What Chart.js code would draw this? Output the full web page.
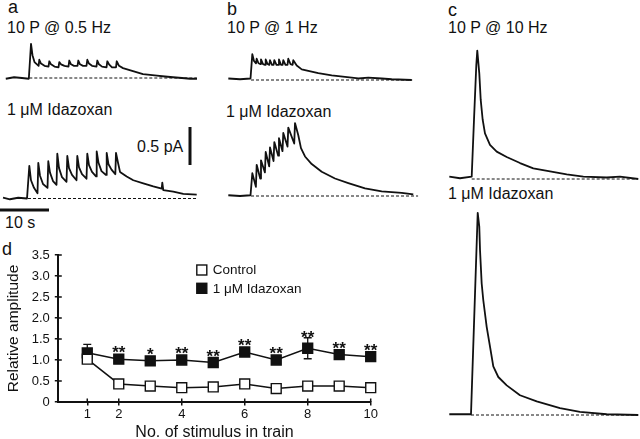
<!DOCTYPE html>
<html>
<head>
<meta charset="utf-8">
<script src="https://cdn.jsdelivr.net/npm/chart.js"></script>
<style>
  body { margin: 0; background: #fff; }
  #fig { position: relative; width: 640px; height: 439px; overflow: hidden; font-family: "Liberation Sans", Arial, sans-serif; color: #111; }
  #fig canvas { position: absolute; }
  .t { position: absolute; white-space: nowrap; font-size: 16px; line-height: 16px; }
  .big { font-size: 18px; line-height: 18px; }
</style>
</head>
<body>
<div id="fig">
  <div class="t big" style="left:8px;top:-2px">a</div>
  <div class="t big" style="left:227px;top:0px">b</div>
  <div class="t big" style="left:448px;top:1px">c</div>
  <div class="t big" style="left:2px;top:240px">d</div>
  <div class="t" style="left:7px;top:19.5px">10 P @ 0.5 Hz</div>
  <div class="t" style="left:7px;top:101.5px">1 μM Idazoxan</div>
  <div class="t" style="left:227px;top:19.5px">10 P @ 1 Hz</div>
  <div class="t" style="left:226px;top:103.5px">1 μM Idazoxan</div>
  <div class="t" style="left:448px;top:20px">10 P @ 10 Hz</div>
  <div class="t" style="left:448px;top:185.5px">1 μM Idazoxan</div>
  <div class="t" style="left:137px;top:138.5px">0.5 pA</div>
  <div class="t" style="left:5px;top:214.5px">10 s</div>
</div>
<script>
// ---- traces: time (s, 0 = first stimulus) and current (pA above baseline) ----
const aTopTime = [-4.8, -3.1, -1.5, -0.1, 0.35, 0.65, 1.06, 1.9, 2.04, 2.39, 3.1, 3.92, 4.08, 4.43, 5.14, 5.96, 6.12, 6.47, 7.18, 8.0, 8.16, 8.51, 9.12, 9.84, 10.0, 10.35, 10.96, 11.67, 11.84, 12.18, 12.8, 13.71, 13.88, 14.22, 14.84, 15.76, 15.92, 16.27, 16.88, 17.69, 17.84, 18.31, 19.12, 20.14, 21.16, 22.18, 23.2, 24.63, 26.06, 27.69, 29.33, 31.16, 32.8, 34.22];
const aTopAmp  = [-0.01, 0.01, 0.0, -0.01, 0.45, 0.30, 0.21, 0.16, 0.24, 0.19, 0.16, 0.15, 0.22, 0.18, 0.15, 0.14, 0.21, 0.18, 0.16, 0.15, 0.23, 0.18, 0.16, 0.16, 0.23, 0.18, 0.16, 0.16, 0.24, 0.19, 0.16, 0.15, 0.23, 0.18, 0.15, 0.14, 0.22, 0.18, 0.14, 0.14, 0.22, 0.16, 0.13, 0.11, 0.09, 0.07, 0.05, 0.04, 0.03, 0.02, 0.01, 0.0, -0.01, -0.01];

const aBotTime = [-5.1, -3.7, -2.0, -0.2, 0, 0.27, 0.61, 1.22, 1.94, 2.1, 2.45, 3.06, 3.98, 4.14, 4.49, 5.1, 5.82, 5.98, 6.33, 6.94, 7.86, 8.02, 8.37, 8.98, 9.9, 10.06, 10.41, 11.02, 11.94, 12.1, 12.45, 13.06, 13.88, 14.02, 14.39, 15.0, 15.92, 16.06, 16.43, 17.04, 17.82, 17.96, 18.37, 18.78, 20.14, 21.49, 23.53, 25.57, 27.29, 27.41, 27.61, 29.65, 31.69, 34.43];
const aBotAmp  = [0.01, -0.01, 0.01, 0, 0, 0.43, 0.24, 0.14, 0.07, 0.47, 0.30, 0.19, 0.14, 0.49, 0.34, 0.23, 0.18, 0.59, 0.40, 0.28, 0.22, 0.56, 0.40, 0.31, 0.24, 0.56, 0.41, 0.32, 0.26, 0.59, 0.44, 0.35, 0.29, 0.62, 0.47, 0.36, 0.31, 0.60, 0.45, 0.38, 0.32, 0.60, 0.47, 0.35, 0.29, 0.24, 0.20, 0.16, 0.13, 0.21, 0.11, 0.09, 0.06, 0.05];

const bTopTime = [-4.63, -2.24, -0.1, 0.27, 0.61, 1.02, 1.16, 1.53, 1.94, 2.04, 2.45, 2.86, 3.0, 3.37, 3.73, 3.88, 4.29, 4.61, 4.76, 5.2, 5.57, 5.71, 6.12, 6.45, 6.59, 7.04, 7.45, 7.61, 8.06, 8.49, 8.63, 9.33, 10.35, 11.69, 13.73, 16.47, 19.18, 21.9, 23.94, 26.67, 28.71, 32.8];
const bTopAmp  = [0.02, 0.01, 0.02, 0.34, 0.25, 0.22, 0.28, 0.22, 0.21, 0.27, 0.21, 0.20, 0.27, 0.21, 0.20, 0.26, 0.20, 0.20, 0.26, 0.20, 0.20, 0.27, 0.20, 0.20, 0.26, 0.20, 0.20, 0.28, 0.21, 0.20, 0.26, 0.19, 0.14, 0.12, 0.09, 0.06, 0.04, 0.02, 0.03, 0.02, 0.01, 0];

const bBotTime = [-4.63, -2.24, -0.1, 0.27, 1.0, 1.16, 1.88, 2.04, 2.84, 3.0, 3.71, 3.88, 4.6, 4.76, 5.55, 5.71, 6.43, 6.59, 7.45, 7.61, 8.82, 8.98, 9.65, 10.2, 11.02, 12.39, 14.43, 17.14, 19.86, 23.27, 26.67, 30.76, 33.12];
const bBotAmp  = [0.01, 0, 0.01, 0.30, 0.12, 0.41, 0.23, 0.47, 0.31, 0.58, 0.39, 0.64, 0.46, 0.71, 0.53, 0.76, 0.59, 0.83, 0.65, 0.90, 0.69, 0.96, 0.80, 0.63, 0.52, 0.42, 0.32, 0.23, 0.17, 0.10, 0.06, 0.04, 0.02];

const cTopTime = [-4.57, -2.39, 0, 0.47, 0.94, 1.14, 1.55, 1.84, 2.24, 2.71, 3.73, 5.1, 7.14, 9.86, 12.57, 15.98, 19.39, 22.78, 27.55, 30.27, 34.0];
const cTopAmp  = [0.03, 0.01, 0.03, 0.78, 1.5, 1.69, 1.39, 1.04, 0.78, 0.60, 0.45, 0.36, 0.29, 0.21, 0.14, 0.10, 0.06, 0.03, 0.02, 0.03, 0.0];

const cBotTime = [-4.43, -2.24, 0, 1.37, 1.69, 1.84, 2.18, 2.51, 3.2, 3.88, 4.55, 5.57, 7.29, 10.0, 13.41, 18.16, 22.24, 27.69, 34.14];
const cBotAmp  = [0.01, 0.01, 0.01, 2.66, 2.48, 2.17, 1.73, 1.51, 1.16, 0.90, 0.64, 0.50, 0.39, 0.26, 0.18, 0.09, 0.04, 0.01, 0];

// dashed zero-current lines (time range, s)
const aTopBase = [0, 34.2], aBotBase = [0, 34.4];
const bTopBase = [0, 32.9], bBotBase = [0, 34.1];
const cTopBase = [0, 33.7], cBotBase = [0, 34.1];

// scale bars
const SCALE_BAR_S = 10;
const SCALE_BAR_PA = 0.5;

// ---- panel d ----
const stimulusNo   = [1, 2, 3, 4, 5, 6, 7, 8, 9, 10];
const controlAmp   = [1.02, 0.43, 0.38, 0.34, 0.36, 0.43, 0.32, 0.38, 0.38, 0.34];
const controlSem   = [0.04, 0.04, 0.03, 0.03, 0.03, 0.04, 0.03, 0.03, 0.04, 0.03];
const idazoxanAmp  = [1.17, 1.02, 0.98, 1.0, 0.94, 1.19, 1.0, 1.28, 1.13, 1.08];
const idazoxanSem  = [0.20, 0.06, 0.06, 0.05, 0.05, 0.06, 0.05, 0.25, 0.06, 0.06];
const significance = ['', '**', '*', '**', '**', '**', '**', '**', '**', '**'];
const xTickValues  = [1, 2, 4, 6, 8, 10];
const yTickStep    = 0.5;

const INK = '#111';
const FONT = '"Liberation Sans", Arial, sans-serif';
const PX_PER_S = 4.9;    // 10 s bar = 49 px
const PX_PER_PA = 76;    // 0.5 pA bar = 38 px

Chart.defaults.font.family = FONT;
Chart.defaults.color = INK;

function toPoints(ts, vs) {
    return ts.map((t, i) => ({ x: t, y: vs[i] }));
}

function addCanvas(box) {
    const canvas = document.createElement('canvas');
    canvas.width = box.w;
    canvas.height = box.h;
    canvas.style.left = box.left + 'px';
    canvas.style.top = box.top + 'px';
    document.getElementById('fig').appendChild(canvas);
    return canvas;
}

// page pixel -> trace units, for a given panel layout
function pxToT(px, stimX) { return (px - stimX) / PX_PER_S; }
function pxToA(py, baseY) { return (baseY - py) / PX_PER_PA; }

function traceChart(box, stimX, baseY, times, amps, baseRange, extra = []) {
    const canvas = addCanvas(box);
    const datasets = [
        { data: toPoints(times, amps), borderColor: INK, borderWidth: 1.8, borderJoinStyle: 'round' },
        { data: baseRange.map(t => ({ x: t, y: 0 })), borderColor: INK, borderWidth: 1, borderDash: [3, 2] },
        ...extra
    ];
    return new Chart(canvas, {
        type: 'line',
        data: { datasets },
        options: {
            responsive: false,
            animation: false,
            devicePixelRatio: 1,
            events: [],
            layout: { padding: 0 },
            elements: { point: { radius: 0 }, line: { tension: 0 } },
            plugins: { legend: { display: false }, tooltip: { enabled: false } },
            scales: {
                x: { type: 'linear', display: false, min: pxToT(box.left, stimX), max: pxToT(box.left + box.w, stimX) },
                y: { type: 'linear', display: false, min: pxToA(box.top + box.h, baseY), max: pxToA(box.top, baseY) }
            }
        }
    });
}

// scale bars live in the lower trace of panel a
const aBotStim = 28, aBotBaseY = 198.5;
const hBarT = pxToT(0, aBotStim), hBarA = pxToA(210, aBotBaseY);
const vBarT = pxToT(190, aBotStim), vBarA = pxToA(165, aBotBaseY);
const scaleBars = [
    { data: [{ x: hBarT, y: hBarA }, { x: hBarT + SCALE_BAR_S, y: hBarA }], borderColor: INK, borderWidth: 3 },
    { data: [{ x: vBarT, y: vBarA }, { x: vBarT, y: vBarA + SCALE_BAR_PA }], borderColor: INK, borderWidth: 3 }
];

traceChart({ left: 0, top: 35, w: 200, h: 55 }, 29.3, 78, aTopTime, aTopAmp, aTopBase);
traceChart({ left: 0, top: 120, w: 200, h: 100 }, aBotStim, aBotBaseY, aBotTime, aBotAmp, aBotBase, scaleBars);
traceChart({ left: 220, top: 40, w: 200, h: 50 }, 251, 80, bTopTime, bTopAmp, bTopBase);
traceChart({ left: 220, top: 115, w: 200, h: 90 }, 251, 196, bBotTime, bBotAmp, bBotBase);
traceChart({ left: 440, top: 40, w: 200, h: 150 }, 471.7, 179, cTopTime, cTopAmp, cTopBase);
traceChart({ left: 440, top: 205, w: 200, h: 220 }, 471, 415, cBotTime, cBotAmp, cBotBase);

// ---- panel d plugins ----
const errorBars = {
    id: 'errorBars',
    beforeDatasetsDraw(chart) {
        const { ctx, scales: { x, y } } = chart;
        ctx.save();
        ctx.strokeStyle = INK;
        ctx.lineWidth = 1.3;
        chart.data.datasets.forEach(ds => {
            ds.data.forEach((p, i) => {
                const s = ds.sem[i];
                const px = x.getPixelForValue(p.x);
                const top = y.getPixelForValue(p.y + s);
                const bot = y.getPixelForValue(p.y - s);
                ctx.beginPath();
                ctx.moveTo(px, top); ctx.lineTo(px, bot);
                ctx.moveTo(px - 4, top); ctx.lineTo(px + 4, top);
                ctx.moveTo(px - 4, bot); ctx.lineTo(px + 4, bot);
                ctx.stroke();
            });
        });
        ctx.restore();
    }
};

const stars = {
    id: 'stars',
    afterDatasetsDraw(chart) {
        const { ctx, scales: { x, y } } = chart;
        ctx.save();
        ctx.font = 'bold 17px ' + FONT;
        ctx.textAlign = 'center';
        ctx.textBaseline = 'alphabetic';
        ctx.fillStyle = INK;
        significance.forEach((s, i) => {
            if (!s) return;
            const px = x.getPixelForValue(stimulusNo[i]);
            const cy = Math.min(y.getPixelForValue(idazoxanAmp[i]) - 11,
                                y.getPixelForValue(idazoxanAmp[i] + idazoxanSem[i]) - 5);
            ctx.fillText(s, px, cy + 10);
        });
        ctx.restore();
    }
};

const innerTicks = {
    id: 'innerTicks',
    afterDraw(chart) {
        const { ctx, chartArea, scales: { x, y } } = chart;
        ctx.save();
        ctx.strokeStyle = INK;
        ctx.lineWidth = 1.5;
        ctx.beginPath();
        y.ticks.forEach(t => {
            const py = y.getPixelForValue(t.value);
            ctx.moveTo(chartArea.left, py); ctx.lineTo(chartArea.left + 3.5, py);
        });
        x.ticks.forEach(t => {
            const px = x.getPixelForValue(t.value);
            ctx.moveTo(px, chartArea.bottom); ctx.lineTo(px, chartArea.bottom - 3.5);
        });
        ctx.stroke();
        ctx.restore();
    }
};

const boxLegend = {
    id: 'boxLegend',
    afterDraw(chart) {
        const { ctx, chartArea } = chart;
        ctx.save();
        chart.data.datasets.forEach((ds, i) => {
            const x0 = chartArea.left + 138.5;
            const y0 = chartArea.top + 10 + i * 18.3;
            ctx.fillStyle = ds.pointBackgroundColor;
            ctx.fillRect(x0, y0, 10, 10);
            ctx.strokeStyle = INK;
            ctx.lineWidth = 1.4;
            ctx.strokeRect(x0, y0, 10, 10);
            ctx.fillStyle = INK;
            ctx.font = '13.5px ' + FONT;
            ctx.textBaseline = 'middle';
            ctx.fillText(ds.label, x0 + 16, y0 + 5.5);
        });
        ctx.restore();
    }
};

const dCanvas = addCanvas({ left: 0, top: 240, w: 390, h: 199 });
new Chart(dCanvas, {
    type: 'line',
    data: {
        datasets: [
            {
                label: 'Control',
                data: toPoints(stimulusNo, controlAmp),
                sem: controlSem,
                borderColor: INK, borderWidth: 1.5,
                pointStyle: 'rect', pointRadius: 7,
                pointBackgroundColor: '#fff', pointBorderColor: INK, pointBorderWidth: 1.4,
                clip: false
            },
            {
                label: '1 μM Idazoxan',
                data: toPoints(stimulusNo, idazoxanAmp),
                sem: idazoxanSem,
                borderColor: INK, borderWidth: 1.5,
                pointStyle: 'rect', pointRadius: 7,
                pointBackgroundColor: INK, pointBorderColor: INK, pointBorderWidth: 1.4,
                clip: false
            }
        ]
    },
    options: {
        responsive: false,
        animation: false,
        devicePixelRatio: 1,
        events: [],
        layout: { padding: { left: 0, top: 15, right: 19.3, bottom: 0 } },
        elements: { line: { tension: 0 } },
        plugins: { legend: { display: false }, tooltip: { enabled: false } },
        scales: {
            x: {
                type: 'linear', min: 0.08, max: 10,
                afterBuildTicks: s => { s.ticks = xTickValues.map(v => ({ value: v })); },
                afterFit: s => { s.height = 37; },
                ticks: { font: { size: 13 }, padding: 1, maxRotation: 0, autoSkip: false },
                grid: { drawOnChartArea: false, color: INK, lineWidth: 1.5, tickLength: 3.5 },
                border: { color: INK, width: 2 },
                title: { display: true, text: 'No. of stimulus in train', font: { size: 16, lineHeight: 0.8 }, padding: 0 }
            },
            y: {
                min: 0, max: 3.5,
                afterFit: s => { s.width = 58.3; },
                ticks: { stepSize: yTickStep, font: { size: 13 }, padding: 5, callback: v => v === 0 ? '0' : v.toFixed(1) },
                grid: { drawOnChartArea: false, color: INK, lineWidth: 1.5, tickLength: 3.5 },
                border: { color: INK, width: 2 },
                title: { display: true, text: 'Relative amplitude', font: { size: 15.5 }, padding: { top: 4.5, bottom: 0 } }
            }
        }
    },
    plugins: [errorBars, stars, innerTicks, boxLegend]
});
</script>
</body>
</html>
